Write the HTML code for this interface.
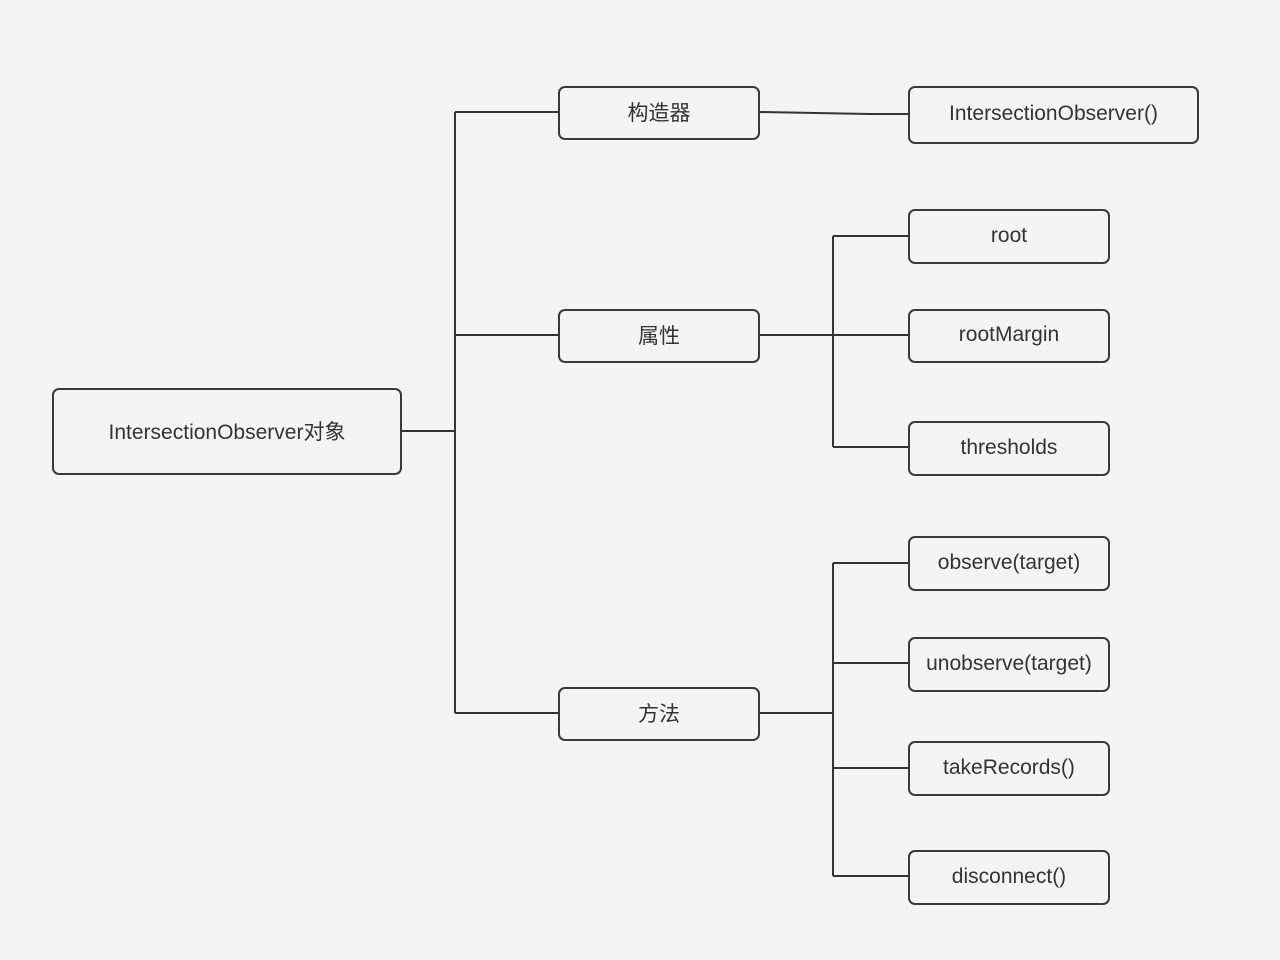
<!DOCTYPE html>
<html><head><meta charset="utf-8"><style>
body{margin:0;background:#f4f4f4;}
.wrap{position:relative;width:1280px;height:960px;background:#f4f4f4;overflow:hidden;}
.b{position:absolute;box-sizing:border-box;border:2px solid #3a3a3a;border-radius:7px;display:flex;align-items:center;justify-content:center;font-family:"Liberation Sans","Noto Sans CJK SC",sans-serif;font-size:21px;color:#333;background:#f4f4f4;padding-bottom:2px;}
svg{position:absolute;left:0;top:0;}
</style></head><body><div class="wrap">
<svg width="1280" height="960"><g stroke="#333" stroke-width="2" fill="none">
<path d="M402 431H455M455 112V713M455 112H558M455 335H558M455 713H558"/>
<path d="M759 112L870 114H908"/>
<path d="M759 335H908M833 236V447M833 236H908M833 447H908"/>
<path d="M759 713H833M833 563V876M833 563H908M833 663H908M833 768H908M833 876H908"/>
</g></svg>
<div class="b" style="left:52px;top:388px;width:350px;height:87px">IntersectionObserver对象</div>
<div class="b" style="left:558px;top:86px;width:202px;height:54px">构造器</div>
<div class="b" style="left:558px;top:309px;width:202px;height:54px">属性</div>
<div class="b" style="left:558px;top:687px;width:202px;height:54px">方法</div>
<div class="b" style="left:908px;top:86px;width:291px;height:58px">IntersectionObserver()</div>
<div class="b" style="left:908px;top:209px;width:202px;height:55px">root</div>
<div class="b" style="left:908px;top:309px;width:202px;height:54px">rootMargin</div>
<div class="b" style="left:908px;top:421px;width:202px;height:55px">thresholds</div>
<div class="b" style="left:908px;top:536px;width:202px;height:55px">observe(target)</div>
<div class="b" style="left:908px;top:637px;width:202px;height:55px">unobserve(target)</div>
<div class="b" style="left:908px;top:741px;width:202px;height:55px">takeRecords()</div>
<div class="b" style="left:908px;top:850px;width:202px;height:55px">disconnect()</div>
</div></body></html>
